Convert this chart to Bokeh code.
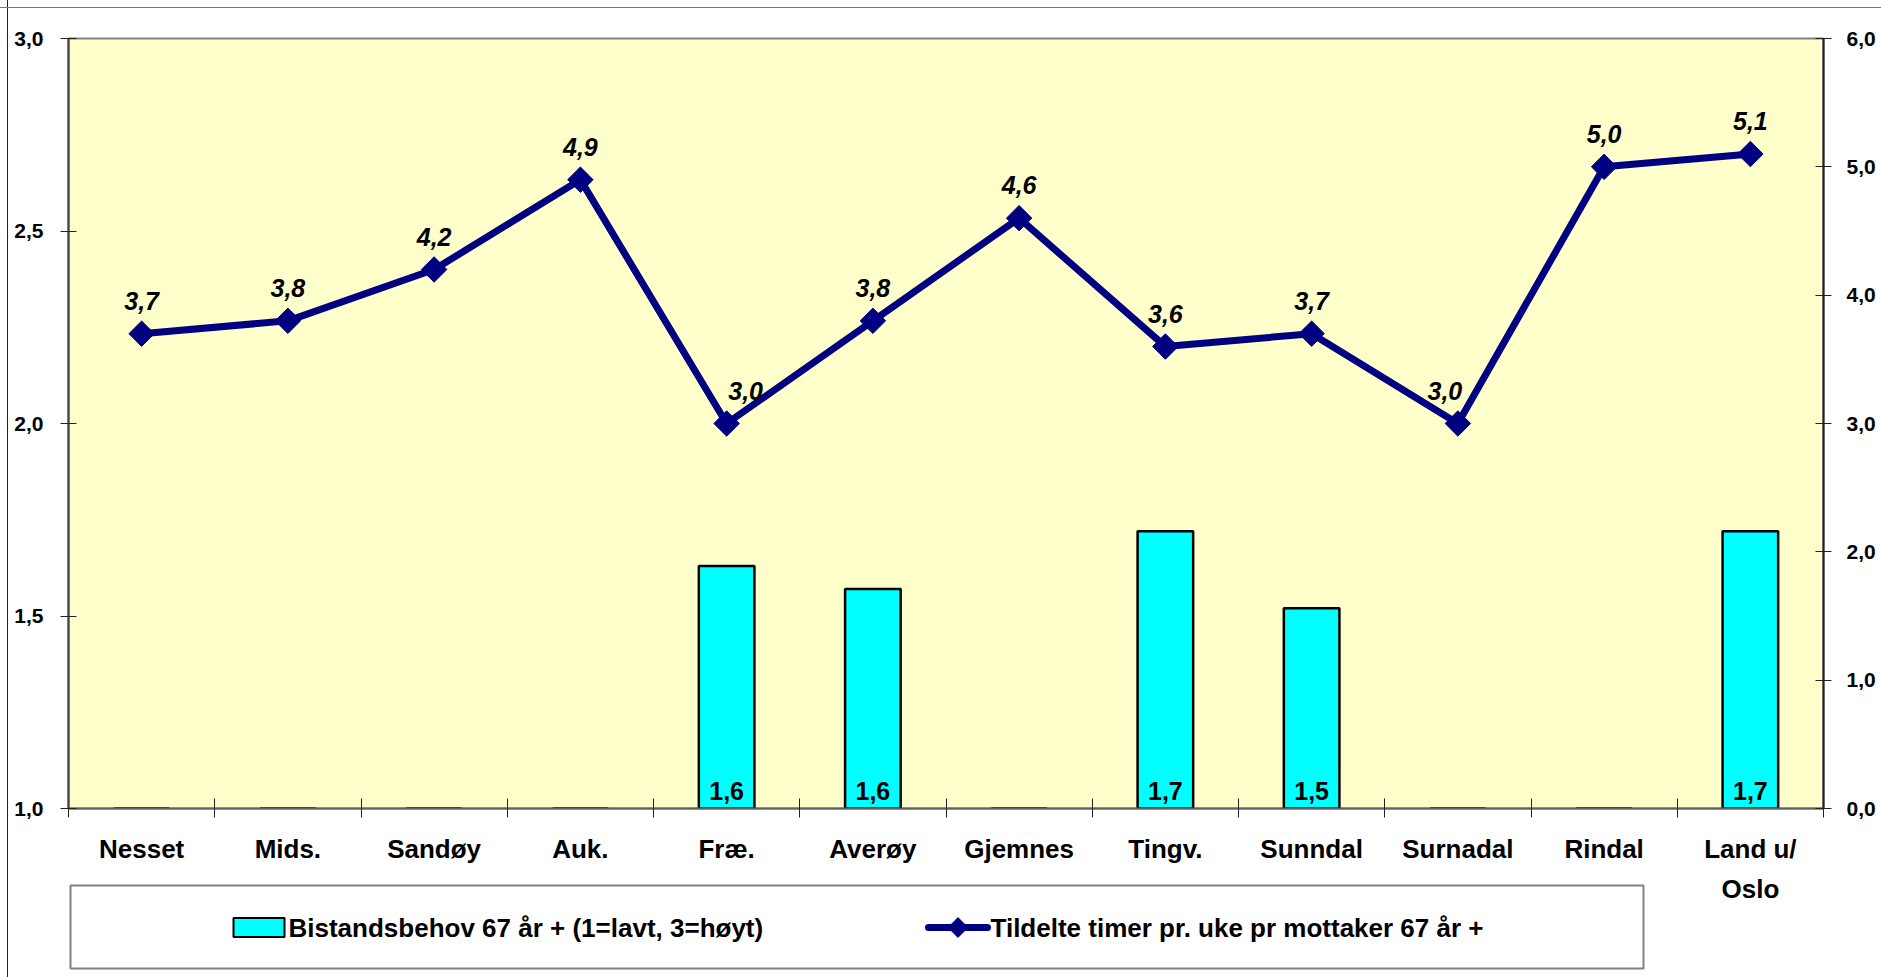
import math
from bokeh.plotting import figure
from bokeh.layouts import column
from bokeh.models import (Range1d, LinearAxis, FixedTicker, CustomJSTickFormatter,
                          ColumnDataSource)
from bokeh.core.properties import value
from bokeh.embed import file_html
from bokeh.resources import INLINE

# ---------------- data ----------------
categories = ["Nesset", "Mids.", "Sandøy", "Auk.", "Fræ.", "Averøy", "Gjemnes",
              "Tingv.", "Sunndal", "Surnadal", "Rindal", "Land u/\nOslo"]
bistandsbehov = [1.0, 1.0, 1.0, 1.0, 1.63, 1.57, 1.0, 1.72, 1.52, 1.0, 1.0, 1.72]
timer = [3.7, 3.8, 4.2, 4.9, 3.0, 3.8, 4.6, 3.6, 3.7, 3.0, 5.0, 5.1]
left_ticks = [1.0, 1.5, 2.0, 2.5, 3.0]
right_ticks = [0, 1, 2, 3, 4, 5, 6]
bar_name = "Bistandsbehov 67 år + (1=lavt, 3=høyt)"
line_name = "Tildelte timer pr. uke pr mottaker 67 år +"

# horizontal nudges (px) of the line's value labels, as placed in the original
label_nudge_px = [0, 0, 0, 0, 19, 0, 0, 0, 0, -13, 0, 0]

FONT = "Liberation Sans"
BAR_FILL = "#00FFFF"
LINE_COL = "#000080"

def fmt(v):
    return f"{v:.1f}".replace(".", ",")

xs = [i + 0.5 for i in range(len(categories))]
bounds = list(range(len(categories) + 1))

bar_src = ColumnDataSource(dict(x=xs, top=bistandsbehov))
lab_x = [x for x, v in zip(xs, bistandsbehov) if v > 1.0]
lab_t = [fmt(v) for v in bistandsbehov if v > 1.0]
bar_lab_src = ColumnDataSource(dict(x=lab_x, y=[1.0] * len(lab_x), t=lab_t))
line_src = ColumnDataSource(dict(x=xs, y=timer, t=[fmt(v) for v in timer],
                                 dx=label_nudge_px))

W, H = 1881, 977
BL, BR, BT, BB = 68, 58, 38, 169
p = figure(width=W, height=H, x_range=Range1d(0, len(categories)),
           y_range=Range1d(1, 3), output_backend="svg", toolbar_location=None,
           min_border_left=BL, min_border_right=BR, min_border_top=BT,
           min_border_bottom=BB, background_fill_color="#FFFFCC",
           border_fill_color=None,
           styles={"background-image": "linear-gradient(#777,#777), linear-gradient(#222,#222)",
                   "background-size": "100% 1px, 1px 100%",
                   "background-position": "0 7px, 7px 0",
                   "background-repeat": "no-repeat",
                   "background-color": "white"})
p.extra_y_ranges = {"right": Range1d(0, 6)}
p.grid.visible = False
p.outline_line_color = "#808080"
p.outline_line_width = 2

# left axis
ya = p.yaxis[0]
ya.ticker = FixedTicker(ticks=left_ticks)
ya.formatter = CustomJSTickFormatter(code="return tick.toFixed(1).replace('.', ',');")
ya.major_tick_in = 8
ya.major_tick_out = 8
ya.major_tick_line_color = "#222222"
ya.minor_tick_line_color = None
ya.axis_line_color = "#404040"
ya.axis_line_width = 2
ya.major_label_text_font = FONT
ya.major_label_text_font_size = "21px"
ya.major_label_text_font_style = "bold"
ya.major_label_text_color = "black"
ya.major_label_standoff = 17

# right axis
ra = LinearAxis(y_range_name="right", ticker=FixedTicker(ticks=right_ticks),
                formatter=CustomJSTickFormatter(code="return tick.toFixed(1).replace('.', ',');"))
ra.major_tick_in = 8
ra.major_tick_out = 8
ra.major_tick_line_color = "#222222"
ra.minor_tick_line_color = None
ra.axis_line_color = "#202020"
ra.axis_line_width = 2
ra.major_label_text_font = FONT
ra.major_label_text_font_size = "21px"
ra.major_label_text_font_style = "bold"
ra.major_label_text_color = "black"
ra.major_label_standoff = 15
p.add_layout(ra, "right")

# x axis
xa = p.xaxis[0]
xa.ticker = FixedTicker(ticks=xs, minor_ticks=bounds)
xa.formatter = CustomJSTickFormatter(args=dict(labels=categories),
                                     code="return labels[Math.floor(tick)];")
xa.major_tick_line_color = None
xa.major_tick_in = 0
xa.major_tick_out = 9
xa.minor_tick_in = 10
xa.minor_tick_out = 9
xa.minor_tick_line_color = "#222222"
xa.axis_line_color = "#606060"
xa.axis_line_width = 2
xa.major_label_text_font = FONT
xa.major_label_text_font_size = "26px"
xa.major_label_text_font_style = "bold"
xa.major_label_text_color = "black"
xa.major_label_text_line_height = 1.35
xa.major_label_standoff = 16

# bars
p.vbar(x="x", top="top", bottom=1.0, width=0.38, source=bar_src,
       fill_color=BAR_FILL, line_color="black", line_width=2.5)
p.text(x="x", y="y", text="t", source=bar_lab_src, text_font=value(FONT),
       text_font_size="25px", text_font_style="bold", text_color="black",
       text_align="center", text_baseline="alphabetic", y_offset=-18)

# line
p.line(x="x", y="y", source=line_src, y_range_name="right",
       line_color=LINE_COL, line_width=7)
p.scatter(x="x", y="y", source=line_src, y_range_name="right",
          marker="square", angle=math.pi / 4, size=18,
          fill_color=LINE_COL, line_color=LINE_COL)
p.text(x="x", y="y", text="t", source=line_src, y_range_name="right",
       x_offset="dx", text_font=value(FONT), text_font_size="25px",
       text_font_style="bold italic", text_color="black",
       text_align="center", text_baseline="alphabetic", y_offset=-33)

# ---------------- legend (separate transparent figure overlapping the bottom) ----------------
LF_TOP = 883
LF_H = H - LF_TOP
FW = W - BL - BR
lf = figure(width=W, height=LF_H, x_range=Range1d(0, FW), y_range=Range1d(0, LF_H),
            output_backend="svg", toolbar_location=None,
            x_axis_location=None, y_axis_location=None,
            min_border_left=BL, min_border_right=BR,
            min_border_top=0, min_border_bottom=0,
            background_fill_alpha=0, border_fill_color=None,
            outline_line_color=None, margin=(-LF_H, 0, 0, 0))
lf.grid.visible = False

# legend box (screen x 70..1643, y 885..968)
box_l, box_r, box_top, box_bot = 70 - BL, 1643 - BL, H - 885, H - 968
lf.quad(left=[box_l], right=[box_r], bottom=[box_bot], top=[box_top],
        fill_color="white", line_color="#808080", line_width=2)

mid = H - 927
sw1_left, sw_w, sw_h = 233 - BL, 51, 19
lf.quad(left=[sw1_left], right=[sw1_left + sw_w], bottom=[mid - sw_h / 2], top=[mid + sw_h / 2],
        fill_color=BAR_FILL, line_color="black", line_width=2)
lf.text(x=[sw1_left + sw_w + 4], y=[mid], text=[bar_name], text_font=value(FONT),
        text_font_size="26px", text_font_style="bold", text_color="black",
        text_align="left", text_baseline="middle")
sw2_left, sw2_w = 928 - BL, 59
lf.line(x=[sw2_left, sw2_left + sw2_w], y=[mid, mid], line_color=LINE_COL,
        line_width=7, line_cap="round")
lf.scatter(x=[sw2_left + sw2_w / 2], y=[mid], marker="square", angle=math.pi / 4,
           size=14, fill_color=LINE_COL, line_color=LINE_COL)
lf.text(x=[sw2_left + sw2_w + 3], y=[mid], text=[line_name], text_font=value(FONT),
        text_font_size="26px", text_font_style="bold", text_color="black",
        text_align="left", text_baseline="middle")

layout = column(p, lf, spacing=0)
open("out.html", "w").write(file_html(layout, INLINE))
